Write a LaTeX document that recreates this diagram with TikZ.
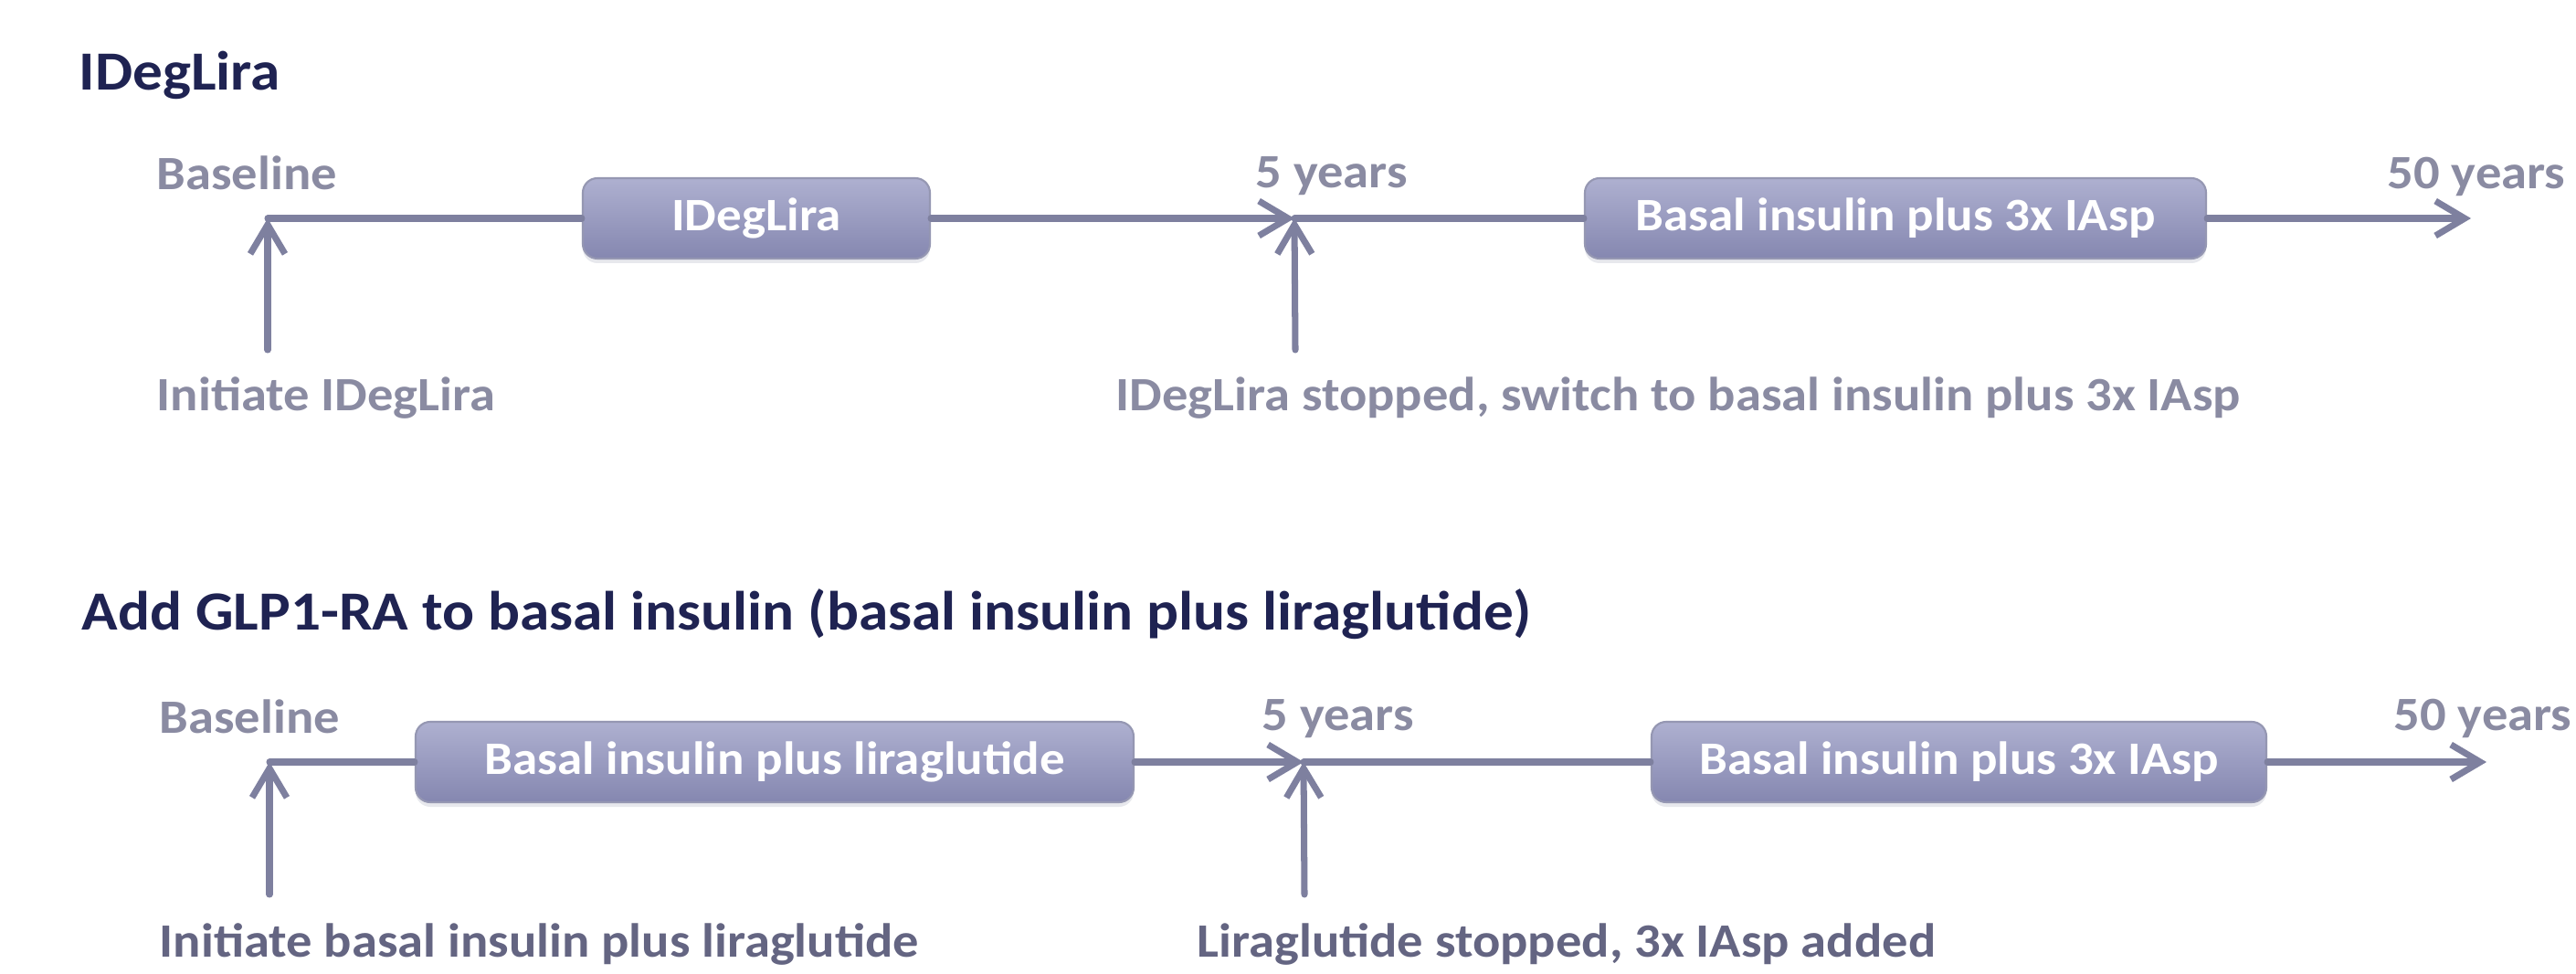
\documentclass[tikz,border=0pt]{standalone}
\usepackage{fontspec}
\setmainfont{Carlito}[FakeStretch=1.08]
\usepackage{tikz}
\usetikzlibrary{arrows.meta,shadows}
\definecolor{navy}{HTML}{1F2352}
\definecolor{slate}{HTML}{7E809F}
\definecolor{lightlabel}{HTML}{8A8BA2}
\definecolor{darklabel}{HTML}{646582}
\definecolor{boxtop}{HTML}{AEB0D0}
\definecolor{boxbot}{HTML}{8587B0}
\definecolor{boxedge}{HTML}{9597B2}
\tikzset{
  every picture/.style={line join=round, line cap=round, >={Straight Barb[length=3.2mm,width=3.8mm]}},
  timeline/.style={draw=slate, line width=2pt},
  phase/.style={rounded corners=0.16cm, top color=boxtop, bottom color=boxbot, draw=boxedge, line width=0.6pt,
    text=white, font=\bfseries\fontsize{14.5}{17}\selectfont, minimum height=0.88cm, inner sep=0pt,
    drop shadow={shadow xshift=0pt, shadow yshift=-0.05cm, opacity=0.18, fill=slate}},
  heading/.style={anchor=base west, inner sep=0pt, text=navy, font=\bfseries\fontsize{17.2}{20}\selectfont},
  ticklabel/.style={anchor=base west, inner sep=0pt, font=\bfseries\fontsize{14.9}{17}\selectfont},
}

\begin{document}
\begin{tikzpicture}
\useasboundingbox[fill=white] (0,0) rectangle (28.2,-10.66);
\node[heading] (h1) at (0.86,-0.99) {IDegLira};
\node[ticklabel,lightlabel] (b1) at (1.71,-2.08) {Baseline};
\node[ticklabel,lightlabel] (y1) at (13.74,-2.06) {5 years};
\node[ticklabel,lightlabel] (e1) at (26.13,-2.07) {50 years};
\coordinate (t0) at (2.930,-2.390);
\coordinate (t5) at (14.170,-2.390);
\coordinate (t50) at (27.050,-2.390);
\coordinate (u0) at (2.930,-3.830);
\coordinate (u5) at (14.180,-3.830);
\node[phase,minimum width=3.80cm] (p1) at (8.280,-2.390) {IDegLira};
\node[phase,minimum width=6.80cm] (p2) at (20.750,-2.390) {Basal insulin plus 3x IAsp};
\draw[timeline] (t0) -- (p1);
\draw[timeline,->] (p1) -- (t5);
\draw[timeline] (t5) -- (p2);
\draw[timeline,->] (p2) -- (t50);
\draw[timeline,->] (u0) -- (t0);
\draw[timeline,->] (u5) -- (t5);
\node[ticklabel,lightlabel] (s1) at (1.71,-4.50) {Initiate IDegLira};
\node[ticklabel,lightlabel] (w1) at (12.21,-4.50) {IDegLira stopped, switch to basal insulin plus 3x IAsp};

\node[heading] (h2) at (0.89,-6.90) {Add GLP1-RA to basal insulin (basal insulin plus liraglutide)};
\node[ticklabel,lightlabel] (b2) at (1.74,-8.03) {Baseline};
\node[ticklabel,lightlabel] (y2) at (13.81,-8.00) {5 years};
\node[ticklabel,lightlabel] (e2) at (26.20,-8.00) {50 years};
\coordinate (v0) at (2.950,-8.340);
\coordinate (v5) at (14.270,-8.340);
\coordinate (v50) at (27.220,-8.340);
\coordinate (w0) at (2.950,-9.790);
\coordinate (w5) at (14.280,-9.790);
\node[phase,minimum width=7.86cm] (q1) at (8.480,-8.340) {Basal insulin plus liraglutide};
\node[phase,minimum width=6.73cm] (q2) at (21.445,-8.340) {Basal insulin plus 3x IAsp};
\draw[timeline] (v0) -- (q1);
\draw[timeline,->] (q1) -- (v5);
\draw[timeline] (v5) -- (q2);
\draw[timeline,->] (q2) -- (v50);
\draw[timeline,->] (w0) -- (v0);
\draw[timeline,->] (w5) -- (v5);
\node[ticklabel,darklabel] (s2) at (1.74,-10.47) {Initiate basal insulin plus liraglutide};
\node[ticklabel,darklabel] (l2) at (13.10,-10.47) {Liraglutide stopped, 3x IAsp added};
\end{tikzpicture}
\end{document}
